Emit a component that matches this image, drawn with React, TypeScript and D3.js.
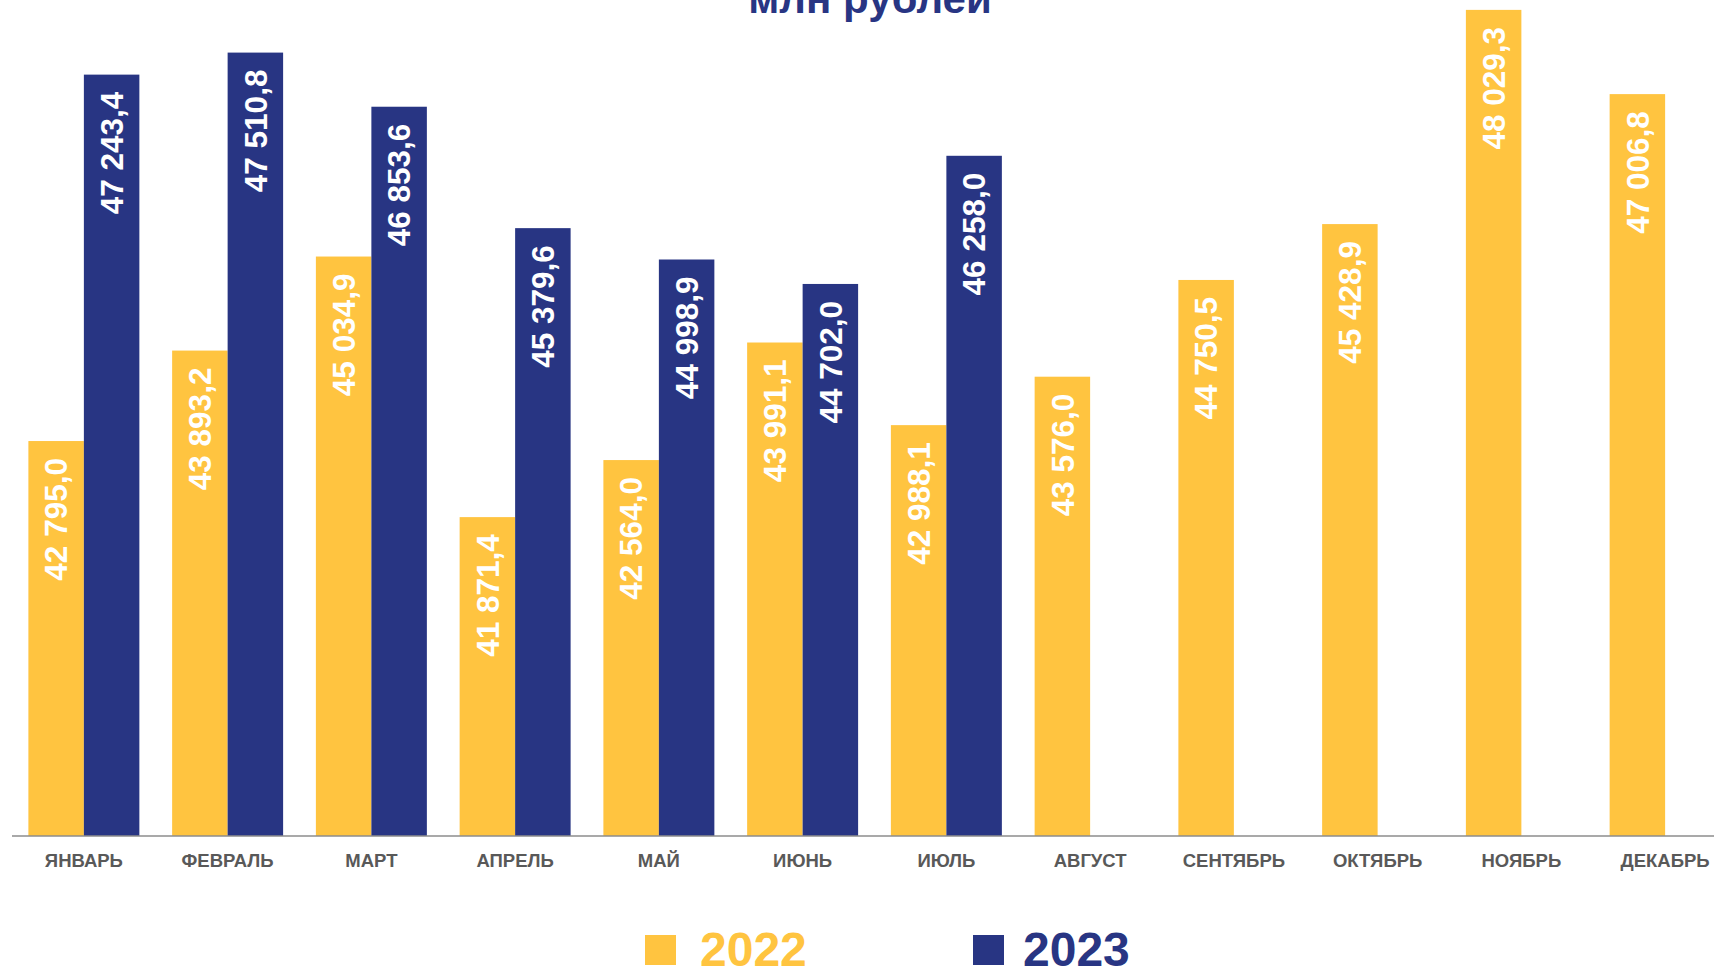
import React from "react";
import * as d3 from "d3";

const months = ["ЯНВАРЬ", "ФЕВРАЛЬ", "МАРТ", "АПРЕЛЬ", "МАЙ", "ИЮНЬ", "ИЮЛЬ", "АВГУСТ", "СЕНТЯБРЬ", "ОКТЯБРЬ", "НОЯБРЬ", "ДЕКАБРЬ"];
const values2022 = [42795.0, 43893.2, 45034.9, 41871.4, 42564.0, 43991.1, 42988.1, 43576.0, 44750.5, 45428.9, 48029.3, 47006.8];
const values2023: (number | null)[] = [47243.4, 47510.8, 46853.6, 45379.6, 44998.9, 44702.0, 46258.0, null, null, null, null, null];
const seriesNames = ["2022", "2023"];
const colors = ["#FFC440", "#283583"];
const title = "млн рублей";

const W = 1714;
const H = 967;

const locale = d3.formatLocale({ decimal: ",", thousands: " ", grouping: [3], currency: ["", ""] });
const fmt = locale.format(",.1f");

export default function App() {
  const x = d3.scaleBand<string>().domain(months).range([12, 1737]).paddingInner(0.228).paddingOuter(0.114);
  const inner = d3.scaleBand<string>().domain(seriesNames).range([0, x.bandwidth()]);
  const y = d3.scaleLinear().domain([38000, 48000]).range([836, 12.3]);
  const axisY = y(38000);
  const series = [values2022, values2023];

  return (
    <svg width={W} height={H} style={{ position: "absolute", left: 0, top: 0, background: "#fff" }}
      fontFamily="'Liberation Sans', Arial, sans-serif">
      <text x={870} y={13} textAnchor="middle" fontSize={42} fontWeight="bold" fill="#283583">{title}</text>
      {series.map((vals, si) =>
        vals.map((v, i) => {
          if (v == null) return null;
          const bx = (x(months[i]) as number) + (inner(seriesNames[si]) as number);
          const bw = inner.bandwidth();
          const top = y(v);
          const cx = bx + bw / 2;
          return (
            <g key={`${si}-${i}`}>
              <rect x={bx} y={top} width={bw} height={axisY - top} fill={colors[si]} />
              <text transform={`translate(${cx},${top + 17}) rotate(-90)`} textAnchor="end" dy="0.36em"
                fontSize={31.5} fontWeight="bold" fill="#fff">{fmt(v)}</text>
            </g>
          );
        })
      )}
      <line x1={12} x2={W} y1={axisY} y2={axisY} stroke="#8c8c8c" strokeWidth={1.5} />
      {months.map((m) => (
        <text key={m} x={(x(m) as number) + x.bandwidth() / 2} y={867} textAnchor="middle" fontSize={18.5}
          fontWeight="bold" fill="#595959">{m}</text>
      ))}
      {seriesNames.map((s, i) => {
        const lx = [645, 973][i];
        const tx = [700, 1023][i];
        return (
          <g key={s}>
            <rect x={lx} y={935} width={31} height={30} fill={colors[i]} />
            <text x={tx} y={966} fontSize={48} fontWeight="bold" fill={colors[i]}>{s}</text>
          </g>
        );
      })}
    </svg>
  );
}
